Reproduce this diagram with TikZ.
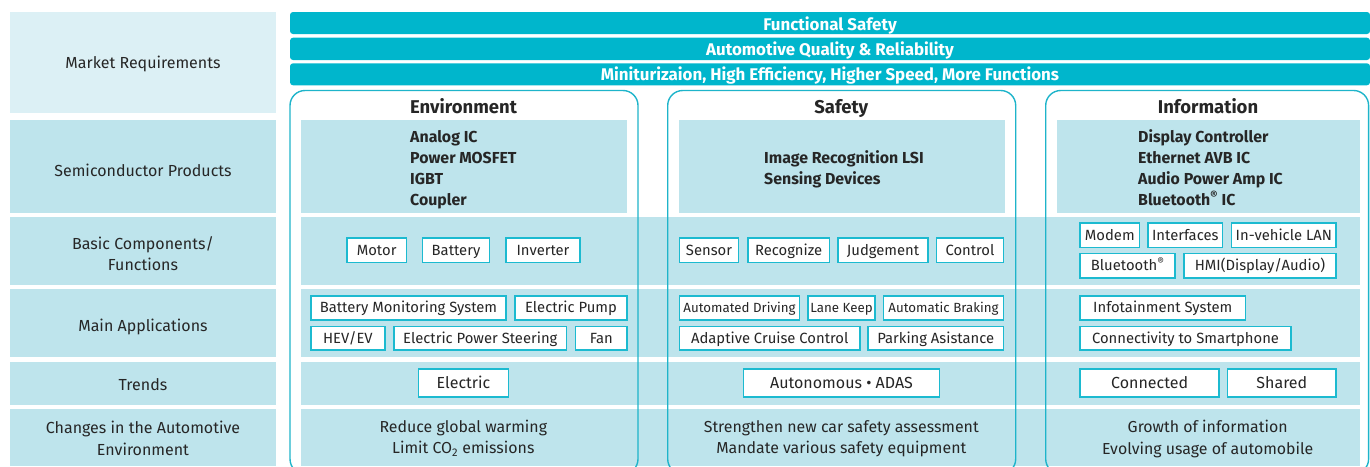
\documentclass[tikz,border=0pt]{standalone}
\usepackage{fontspec}
\setmainfont{Fira Sans}
\definecolor{bar}{RGB}{0,182,204}
\definecolor{band}{RGB}{190,228,236}
\definecolor{cell}{RGB}{220,240,245}
\definecolor{edge}{RGB}{28,186,208}
\definecolor{coledge}{RGB}{30,180,202}
\definecolor{txt}{RGB}{38,38,38}
\newcommand\bxn[8][]{\node[bxs,#1,minimum width={(#5-#3-1.6)*1pt},minimum height={(#6-#4-1.6)*1pt}] (#2) at ({(#3+#5)/2},{(#4+#6)/2}) {#7};}
\begin{document}
\begin{tikzpicture}[x=1pt,y=-1pt,
  lab/.style={anchor=base,inner sep=0,text=txt,font=\fontsize{16}{19}\selectfont,align=center},
  bartxt/.style={anchor=base,inner sep=0,text=white,font=\bfseries\fontsize{16.9}{20}\selectfont},
  head/.style={anchor=base,inner sep=0,text=txt,font=\bfseries\fontsize{18.5}{22}\selectfont},
  prod/.style={anchor=base west,inner sep=0,text=txt,font=\bfseries\fontsize{15.9}{19}\selectfont},
  bxs/.style={draw=edge,line width=1.6pt,fill=white,inner sep=0,text=txt,font=\fontsize{14.8}{17}\selectfont,text height=10.2pt,text depth=0pt},
  small/.style={font=\fontsize{13.3}{16}\selectfont,text height=9.2pt},
  trend/.style={font=\fontsize{16}{19}\selectfont,text height=11pt},
  chg/.style={anchor=base,inner sep=0,text=txt,font=\fontsize{15.9}{19}\selectfont},
  colbox/.style={draw=coledge,line width=1.4pt,rounded corners=15pt}]
\useasboundingbox (0,0) rectangle (1370,466);
\begin{scope}
\clip (0,0) rectangle (1370,466);
% left column cells
\fill[cell] (10,12) rectangle (276,113);
\fill[band] (10,120) rectangle (276,213);
\fill[band] (10,217) rectangle (276,285);
\fill[band] (10,289) rectangle (276,357);
\fill[band] (10,362) rectangle (276,405);
\fill[band] (10,409) rectangle (276,466);
% top bars
\fill[bar,rounded corners=3pt] (290,12) rectangle (1370,34);
\fill[bar,rounded corners=3pt] (290,37.7) rectangle (1370,60);
\fill[bar,rounded corners=3pt] (290,63.3) rectangle (1370,85.3);
% semiconductor bands
\fill[band] (301,120) rectangle (627,213);
\fill[band] (679,120) rectangle (1005,213);
\fill[band] (1057,120) rectangle (1360,213);
% full bands
\fill[band] (301,217) rectangle (1360,285);
\fill[band] (301,289) rectangle (1360,357);
\fill[band] (301,362) rectangle (1360,405);
\fill[band] (301,409) rectangle (1360,466);
% column outlines
\draw[colbox] (290,90.5) rectangle (638,474);
\draw[colbox] (667.7,90.5) rectangle (1015.7,474);
\draw[colbox] (1045.7,90.5) rectangle (1368.6,474);
\end{scope}
% left labels
\node[lab] (l1) at (143,68.3) {Market Requirements};
\node[lab] (l2) at (143,176) {Semiconductor Products};
\node[lab] (l3a) at (143,249.3) {Basic Components/};
\node[lab] (l3b) at (143,270) {Functions};
\node[lab] (l4) at (143,331) {Main Applications};
\node[lab] (l5) at (143,390) {Trends};
\node[lab] (l6a) at (143,433.3) {Changes in the Automotive};
\node[lab] (l6b) at (143,455) {Environment};
% bar texts
\node[bartxt] (b1) at (830,30) {Functional Safety};
\node[bartxt] (b2) at (830,55) {Automotive Quality \& Reliability};
\node[bartxt] (b3) at (830,80) {Miniturizaion, High Efficiency, Higher Speed, More Functions};
% headings
\node[head] (h1) at (463.5,113.3) {Environment};
\node[head] (h2) at (841.3,113.3) {Safety};
\node[head] (h3) at (1208,113.3) {Information};
% products
\node[prod] (p1) at (410,142.6) {Analog IC};
\node[prod] (p2) at (410,163.5) {Power MOSFET};
\node[prod] (p3) at (410,184.4) {IGBT};
\node[prod] (p4) at (410,205.6) {Coupler};
\node[prod] (p5) at (764,163.4) {Image Recognition LSI};
\node[prod] (p6) at (764,184.4) {Sensing Devices};
\node[prod] (p7) at (1138,142.6) {Display Controller};
\node[prod] (p8) at (1138,163.5) {Ethernet AVB IC};
\node[prod] (p9) at (1138,184.4) {Audio Power Amp IC};
\node[prod] (p10) at (1138,205.6) {Bluetooth\textsuperscript{®} IC};
% basic components
\bxn{motor}{346}{237.3}{407.3}{263.3}{Motor}{}
\bxn{battery}{421.7}{237.3}{490.3}{263.3}{Battery}{}
\bxn{inverter}{505}{237.3}{581}{263.3}{Inverter}{}
\bxn{sensor}{678.7}{237.3}{739.3}{263.3}{Sensor}{}
\bxn{recog}{747}{237.3}{830.3}{263.3}{Recognize}{}
\bxn{judge}{837.3}{237.3}{928.7}{263.3}{Judgement}{}
\bxn{control}{935.7}{237.3}{1004.3}{263.3}{Control}{}
\bxn{modem}{1079.3}{222.3}{1140.3}{248.3}{Modem}{}
\bxn{interf}{1147.3}{222.3}{1223.3}{248.3}{Interfaces}{}
\bxn{lan}{1230.7}{222.3}{1337}{248.3}{In-vehicle LAN}{}
\bxn{bt}{1079.3}{252.7}{1176}{278.7}{Bluetooth\textsuperscript{®}}{}
\bxn{hmi}{1183}{252.7}{1337}{278.7}{HMI(Display/Audio)}{}
% main applications
\bxn{bms}{310}{295}{507}{320.7}{Battery Monitoring System}{}
\bxn{pump}{514}{295}{628}{320.7}{Electric Pump}{}
\bxn{hev}{310}{325.7}{385.7}{351}{HEV/EV}{}
\bxn{eps}{393.3}{325.7}{567.3}{351}{Electric Power Steering}{}
\bxn{fan}{574.7}{325.7}{628}{351}{Fan}{}
\bxn[small]{ad}{678.7}{295}{800.3}{320.7}{Automated Driving}{}
\bxn[small]{lk}{807.3}{295}{875.7}{320.7}{Lane Keep}{}
\bxn[small]{ab}{882.7}{295}{1004.3}{320.7}{Automatic Braking}{}
\bxn{acc}{678.7}{325.7}{860.7}{351}{Adaptive Cruise Control}{}
\bxn{pa}{867.3}{325.7}{1004.3}{351}{Parking Asistance}{}
\bxn{infot}{1079.3}{295}{1246.3}{320.7}{Infotainment System}{}
\bxn{conn}{1079.3}{325.7}{1291.7}{351}{Connectivity to Smartphone}{}
% trends
\bxn[trend]{elec}{417.7}{368}{509.3}{397.7}{Electric}{}
\bxn[trend]{auto}{742.7}{368}{940.3}{397.7}{Autonomous • ADAS}{}
\bxn[trend]{connd}{1079.3}{368}{1220}{397.7}{Connected}{}
\bxn[trend]{shared}{1226.7}{368}{1337}{397.7}{Shared}{}
% changes
\node[chg] (c1) at (463.3,432.5) {Reduce global warming};
\node[chg] (c2) at (463.3,453.5) {Limit CO\textsubscript{2} emissions};
\node[chg] (c3) at (841.3,432.5) {Strengthen new car safety assessment};
\node[chg] (c4) at (841.3,453.5) {Mandate various safety equipment};
\node[chg] (c5) at (1207.7,432.7) {Growth of information};
\node[chg] (c6) at (1207.7,454) {Evolving usage of automobile};
\end{tikzpicture}
\end{document}
